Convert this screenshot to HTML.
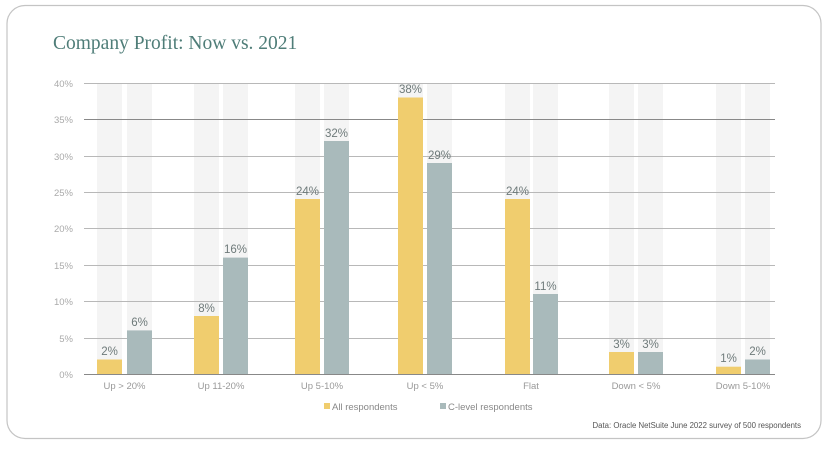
<!DOCTYPE html>
<html><head><style>
body{margin:0;background:#fff;width:830px;height:446px;overflow:hidden}
</style></head><body>
<svg width="830" height="446" xmlns="http://www.w3.org/2000/svg" font-family="Liberation Sans, sans-serif">
<rect x="7" y="5.5" width="814" height="433" rx="18" fill="#fff" stroke="#c4c4c4" stroke-width="1.2"/>
<text x="53" y="49" font-family="Liberation Serif, serif" font-size="19.5" fill="#4f7d78">Company Profit: Now vs. 2021</text>
<g fill="#f4f4f4">
<rect x="97" y="83" width="25" height="291"/><rect x="127" y="83" width="25" height="291"/>
<rect x="194" y="83" width="25" height="291"/><rect x="223" y="83" width="25" height="291"/>
<rect x="295" y="83" width="25" height="291"/><rect x="324" y="83" width="25" height="291"/>
<rect x="398" y="83" width="25" height="291"/><rect x="427" y="83" width="25" height="291"/>
<rect x="505" y="83" width="25" height="291"/><rect x="533" y="83" width="25" height="291"/>
<rect x="609" y="83" width="25" height="291"/><rect x="638" y="83" width="25" height="291"/>
<rect x="716" y="83" width="25" height="291"/><rect x="745" y="83" width="25" height="291"/>
</g>
<g stroke="#b8b8b8" stroke-width="1">
<line x1="84" x2="775" y1="83.5" y2="83.5"/><line x1="84" x2="775" y1="119.5" y2="119.5" stroke="#888"/>
<line x1="84" x2="775" y1="156.5" y2="156.5"/><line x1="84" x2="775" y1="192.5" y2="192.5"/>
<line x1="84" x2="775" y1="228.5" y2="228.5"/><line x1="84" x2="775" y1="265.5" y2="265.5"/>
<line x1="84" x2="775" y1="301.5" y2="301.5"/><line x1="84" x2="775" y1="338.5" y2="338.5"/>
</g>
<g fill="#aaa" font-size="9.5" text-anchor="end">
<text x="73" y="87">40%</text><text x="73" y="123">35%</text><text x="73" y="160">30%</text><text x="73" y="196">25%</text>
<text x="73" y="232">20%</text><text x="73" y="269">15%</text><text x="73" y="305">10%</text><text x="73" y="342">5%</text><text x="73" y="378">0%</text>
</g>
<g fill="#f0cd6e">
<rect x="97" y="359.5" width="25" height="14.5"/><rect x="194" y="316" width="25" height="58"/>
<rect x="295" y="199" width="25" height="175"/><rect x="398" y="97.5" width="25" height="276.5"/>
<rect x="505" y="199" width="25" height="175"/><rect x="609" y="352" width="25" height="22"/>
<rect x="716" y="366.7" width="25" height="7.3"/>
</g>
<g fill="#a9babb">
<rect x="127" y="330.4" width="25" height="43.6"/><rect x="223" y="257.6" width="25" height="116.4"/>
<rect x="324" y="141" width="25" height="233"/><rect x="427" y="163" width="25" height="211"/>
<rect x="533" y="294" width="25" height="80"/><rect x="638" y="352" width="25" height="22"/>
<rect x="745" y="359.5" width="25" height="14.5"/>
</g>
<line x1="84" x2="775" y1="374.5" y2="374.5" stroke="#888"/>
<g fill="#6e7a7a" font-size="11.5" text-anchor="middle">
<text x="109.5" y="355">2%</text><text x="139.5" y="326">6%</text>
<text x="206.5" y="312">8%</text><text x="235.5" y="253">16%</text>
<text x="307.5" y="195">24%</text><text x="336.5" y="137">32%</text>
<text x="410.5" y="93">38%</text><text x="439.5" y="159">29%</text>
<text x="517.5" y="195">24%</text><text x="545.5" y="290">11%</text>
<text x="621.5" y="348">3%</text><text x="650.5" y="348">3%</text>
<text x="728.5" y="362">1%</text><text x="757.5" y="355">2%</text>
</g>
<g fill="#999" font-size="9.5" text-anchor="middle">
<text x="124.5" y="389">Up &gt; 20%</text><text x="221" y="389">Up 11-20%</text><text x="322" y="389">Up 5-10%</text>
<text x="425" y="389">Up &lt; 5%</text><text x="531" y="389">Flat</text><text x="636" y="389">Down &lt; 5%</text><text x="743" y="389">Down 5-10%</text>
</g>
<rect x="324" y="403" width="6" height="6" fill="#f0cd6e"/>
<text x="332" y="410" font-size="9.5" fill="#888">All respondents</text>
<rect x="440" y="403" width="6" height="6" fill="#a9babb"/>
<text x="448" y="410" font-size="9.5" fill="#888">C-level respondents</text>
<text x="801" y="428" font-size="7.8" fill="#555" text-anchor="end">Data: Oracle NetSuite June 2022 survey of 500 respondents</text>
</svg>
</body></html>
